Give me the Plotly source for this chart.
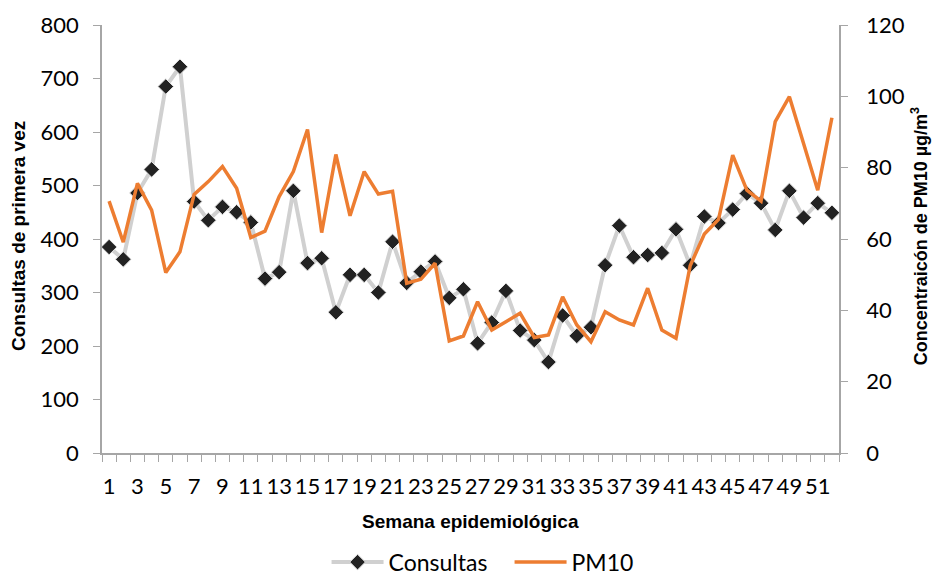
import plotly.graph_objects as go

# Epidemiological weeks 1..52
semanas = list(range(1, 53))

# First-time consultations per week
consultas = [385, 362, 486, 530, 685, 722, 470, 435, 460, 450,
             431, 326, 338, 490, 355, 364, 263, 333, 333, 300,
             395, 318, 339, 358, 290, 306, 205, 244, 303, 229,
             211, 170, 257, 219, 235, 351, 425, 366, 370, 374,
             418, 351, 442, 430, 455, 485, 467, 417, 490, 440,
             467, 449]

# Weekly PM10 concentration (µg/m³)
pm10 = [70.6, 59.1, 75.6, 68.1, 50.6, 56.4, 72.5, 76.1, 80.3, 74.2,
        60.4, 62.2, 71.9, 78.9, 90.7, 61.8, 83.7, 66.5, 78.9, 72.6,
        73.4, 47.6, 48.7, 53.2, 31.4, 32.8, 42.4, 34.5, 36.8, 39.2,
        32.4, 33.1, 43.8, 35.9, 31.2, 39.6, 37.3, 35.9, 46.2, 34.5,
        32.2, 52.5, 61.4, 65.5, 83.5, 73.7, 70.6, 92.9, 99.9, 86.8,
        73.7, 94.0]

# Odd weeks are labelled on the axis
etiquetas = [w for w in semanas if w % 2 == 1]

tick_font = dict(family="Lato, Carlito, sans-serif", size=22, color="#000000")
title_font = dict(family="Liberation Sans, Arial, sans-serif", size=19, color="#000000")
axis_grey = "#a6a6a6"

fig = go.Figure()

fig.add_trace(go.Scatter(
    x=semanas, y=consultas, name="Consultas", mode="lines+markers",
    line=dict(color="#d0d0d0", width=4),
    marker=dict(symbol="diamond", size=12, color="#222222",
                line=dict(color="#e6e6e6", width=1)),
    yaxis="y",
))

fig.add_trace(go.Scatter(
    x=semanas, y=pm10, name="PM10", mode="lines",
    line=dict(color="#ED7D31", width=3.5),
    yaxis="y2",
))

fig.update_layout(
    width=932, height=575,
    margin=dict(l=102, r=93, t=25, b=122, autoexpand=False),
    paper_bgcolor="white", plot_bgcolor="white",
    showlegend=True,
    legend=dict(orientation="h", x=0.553, xanchor="center", y=-0.255, yanchor="middle",
                font=dict(family="Lato, Carlito, sans-serif", size=23, color="#000000"),
                itemwidth=52, entrywidth=116, traceorder="normal"),
    xaxis=dict(
        range=[0.5, 52.5], showgrid=False, zeroline=False,
        showline=True, linecolor=axis_grey, linewidth=1.5,
        tickmode="array", tickvals=etiquetas, ticktext=[str(w) for w in etiquetas],
        ticks="", ticklabelstandoff=13,
        tickfont=dict(family="Lato, Carlito, sans-serif", size=22, color="#000000"),
        minor=dict(tickmode="array", tickvals=[w - 0.5 for w in semanas] + [52.5],
                   ticks="outside", ticklen=7, tickcolor=axis_grey, tickwidth=1, showgrid=False),
    ),
    yaxis=dict(
        range=[0, 800], dtick=100, showgrid=False, zeroline=False,
        showline=True, linecolor=axis_grey, linewidth=1.5,
        ticks="outside", ticklen=7, tickcolor=axis_grey, tickfont=tick_font,
        ticklabelstandoff=10,
    ),
    yaxis2=dict(
        range=[0, 120], dtick=20, overlaying="y", side="right",
        showgrid=False, zeroline=False,
        showline=True, linecolor=axis_grey, linewidth=1.5,
        ticks="outside", ticklen=7, tickcolor=axis_grey, tickfont=tick_font,
        ticklabelstandoff=14,
    ),
    annotations=[
        dict(text="<b>Semana epidemiológica</b>", xref="paper", yref="paper",
             x=0.5, y=-0.161, xanchor="center", yanchor="middle",
             showarrow=False, font=title_font),
        dict(text="<b>Consultas de primera vez</b>", xref="paper", yref="paper",
             x=-0.114, y=0.507, xanchor="center", yanchor="middle", textangle=-90,
             showarrow=False, font=title_font),
        dict(text="<b>Concentraicón de PM10 µg/m<sup>3</sup></b>", xref="paper", yref="paper",
             x=1.109, y=0.507, xanchor="center", yanchor="middle", textangle=-90,
             showarrow=False, font=dict(family="Liberation Sans, Arial, sans-serif",
                                        size=18, color="#000000")),
    ],
)

fig.write_html("out.html")
